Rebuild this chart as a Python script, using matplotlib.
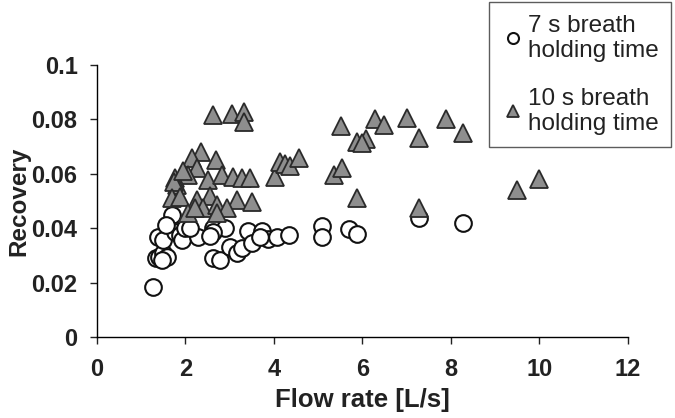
import matplotlib.pyplot as plt

# 7 s breath holding time
flow_7s = [1.27, 1.33, 1.40, 1.50, 1.58, 1.47, 1.38, 1.50, 1.65, 1.69, 1.76, 1.88,
           1.92, 2.00, 2.28, 2.62, 2.62, 2.78, 2.89, 2.62, 3.00, 3.17, 3.28, 3.41,
           3.50, 3.73, 3.86, 3.68, 4.07, 4.34, 5.08, 5.08, 5.70, 5.87, 7.28, 8.27,
           1.55, 2.10, 2.55]
rec_7s = [0.0184, 0.0290, 0.0295, 0.0310, 0.0294, 0.0283, 0.0368, 0.0357, 0.0412,
          0.0449, 0.0386, 0.0375, 0.0357, 0.0400, 0.0368, 0.0400, 0.0290, 0.0283,
          0.0400, 0.0386, 0.0330, 0.0310, 0.0327, 0.0390, 0.0346, 0.0390, 0.0360,
          0.0368, 0.0368, 0.0375, 0.0408, 0.0368, 0.0397, 0.0379, 0.0437, 0.0420,
          0.0410, 0.0400, 0.0370]

# 10 s breath holding time
flow_10s = [2.62, 3.05, 3.32, 3.32,
            2.35, 2.15, 2.69, 2.26, 2.06, 2.51, 2.82, 3.07, 3.28, 3.46, 1.76, 1.81,
            1.73, 1.69, 1.88, 2.26, 2.55, 3.16, 3.50, 2.40, 2.71, 2.94, 2.06, 2.21,
            2.71, 1.95,
            4.02, 4.14, 4.25, 4.36, 4.56, 5.36, 5.53, 5.87, 5.51, 6.28, 6.50, 5.87,
            6.08, 6.00, 7.00, 7.28, 7.90, 8.27, 7.28, 9.50, 10.0]
rec_10s = [0.0816, 0.0820, 0.0828, 0.0790,
           0.0680, 0.0658, 0.0650, 0.0620, 0.0596, 0.0578, 0.0596, 0.0588, 0.0585,
           0.0585, 0.0585, 0.0560, 0.0570, 0.0510, 0.0515, 0.0504, 0.0518, 0.0504,
           0.0496, 0.0474, 0.0485, 0.0474, 0.0456, 0.0474, 0.0456, 0.0610,
           0.0588, 0.0643, 0.0636, 0.0629, 0.0658, 0.0596, 0.0620, 0.0510, 0.0776,
           0.0800, 0.0780, 0.0717, 0.0728, 0.0715, 0.0805, 0.0732, 0.0800, 0.0750,
           0.0474, 0.0540, 0.0580]

plt.rcParams['font.family'] = ['Liberation Sans', 'DejaVu Sans']

fig = plt.figure(figsize=(6.75, 4.18), dpi=100)
ax = fig.add_axes([0.1437, 0.1938, 0.7863, 0.6507])

ax.plot(flow_7s, rec_7s, 'o', ms=12, mfc='white', mec='#111111', mew=1.5,
        label='7 s breath\nholding time')
ax.plot(flow_10s, rec_10s, '^', ms=12.5, mfc='#8e8e8e', mec='#2a2a2a', mew=1.3,
        label='10 s breath\nholding time')

ax.set_xlim(0, 12)
ax.set_ylim(0, 0.1)
ax.set_xticks([0, 2, 4, 6, 8, 10, 12])
ax.set_yticks([0, 0.02, 0.04, 0.06, 0.08, 0.1])
ax.set_yticklabels(['0', '0.02', '0.04', '0.06', '0.08', '0.1'])
for s in ['top', 'right']:
    ax.spines[s].set_visible(False)
for s in ['left', 'bottom']:
    ax.spines[s].set_linewidth(1.0)
ax.tick_params(direction='out', length=5, width=1, labelsize=17, colors='#222222')
ax.tick_params(axis='y', pad=9)
ax.tick_params(axis='x', pad=10)
for lab in ax.get_xticklabels() + ax.get_yticklabels():
    lab.set_fontweight('bold')
ax.set_xlabel('Flow rate [L/s]', fontsize=18.5, fontweight='bold', color='#222222', labelpad=5)
ax.set_ylabel('Recovery', fontsize=17.5, fontweight='bold', color='#222222', labelpad=1)

leg = fig.legend(loc='upper right', bbox_to_anchor=(0.998, 1.0), fontsize=17.5,
                 frameon=True, fancybox=False, edgecolor='#333333', markerscale=0.66,
                 handlelength=1.0, handletextpad=0.12, borderpad=0.5, labelspacing=1.05,
                 borderaxespad=0.1, labelcolor='#222222')
leg.get_frame().set_linewidth(1.0)

fig.savefig('out.png', dpi=100)
